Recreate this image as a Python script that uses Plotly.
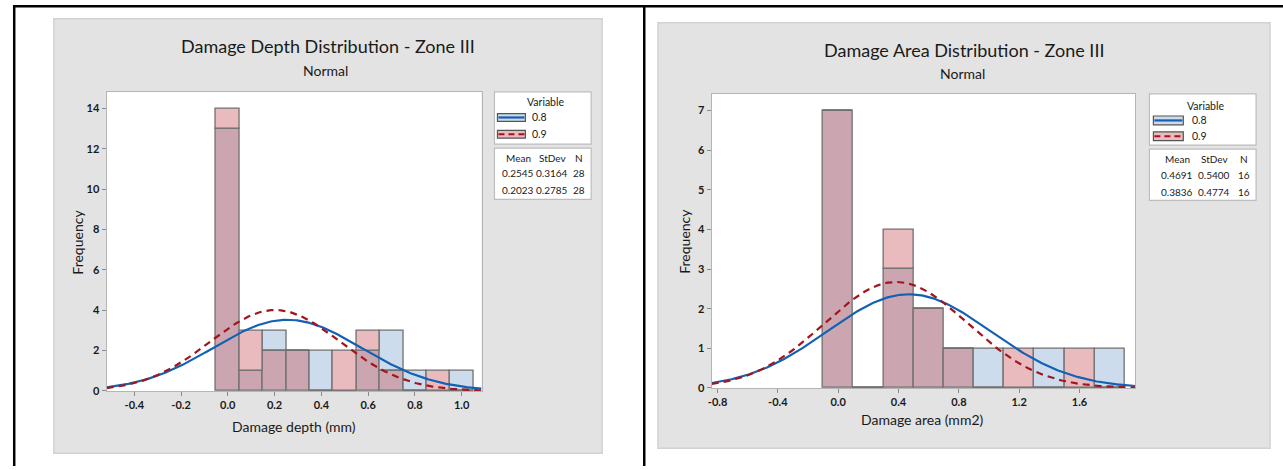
import numpy as np
import plotly.graph_objects as go

W, H = 1283, 470

# ---- data -------------------------------------------------------------
variables = ["0.8", "0.9"]

depth_bins = [0.0, 0.1, 0.2, 0.3, 0.4, 0.5, 0.6, 0.7, 0.8, 0.9, 1.0]
depth_08 = [13, 1, 3, 2, 2, 0, 2, 3, 1, 0, 1]
depth_09 = [14, 3, 2, 2, 0, 2, 3, 1, 0, 1, 0]
depth_mean = [0.2545, 0.2023]
depth_sd = [0.3164, 0.2785]
depth_n = [28, 28]
depth_width = 0.1
depth_xticks = [-0.4, -0.2, 0.0, 0.2, 0.4, 0.6, 0.8, 1.0]
depth_yticks = [0, 2, 4, 6, 8, 10, 12, 14]

area_bins = [0.0, 0.2, 0.4, 0.6, 0.8, 1.0, 1.2, 1.4, 1.6, 1.8]
area_08 = [7, 0, 3, 2, 1, 1, 0, 1, 0, 1]
area_09 = [7, 0, 4, 2, 1, 0, 1, 0, 1, 0]
area_mean = [0.4691, 0.3836]
area_sd = [0.5400, 0.4774]
area_n = [16, 16]
area_width = 0.2
area_xticks = [-0.8, -0.4, 0.0, 0.4, 0.8, 1.2, 1.6]
area_yticks = [0, 1, 2, 3, 4, 5, 6, 7]

# ---- styling ----------------------------------------------------------
BLUE_FILL = "#CDDCEC"
PINK_FILL = "#E9BBBE"
MIX_FILL = "#CBA6B0"
EDGE = "#6F6F6F"
BLUE_LINE = "#1461B4"
RED_LINE = "#A3151C"
PANEL = "#E3E3E3"
FONT = "Lato"
TXT = "#1A1A1A"


def px(x):
    return x / W


def py(y):
    return 1 - y / H


fig = go.Figure()
shapes = []
annotations = []


def rect(x0, y0, x1, y1, fill, line=None, lw=1, layer="below"):
    shapes.append(dict(type="rect", xref="paper", yref="paper",
                       x0=px(x0), x1=px(x1), y0=py(y1), y1=py(y0),
                       fillcolor=fill, layer=layer,
                       line=dict(color=line or fill, width=lw if line else 0)))


def text(x, y, s, size, xanchor="center", angle=0, color=TXT, weight=None):
    if weight:
        s = f"<b>{s}</b>"
    annotations.append(dict(xref="paper", yref="paper", x=px(x), y=py(y),
                            text=s, showarrow=False, xanchor=xanchor,
                            yanchor="middle", textangle=angle,
                            font=dict(family=FONT, size=size, color=color)))


def normal_curve(xs, mean, sd, n, width):
    return n * width * np.exp(-0.5 * ((xs - mean) / sd) ** 2) / (sd * np.sqrt(2 * np.pi))


def add_panel(idx, bins, v08, v09, width, means, sds, ns, xr, yr,
              xticks, yticks, plot_box):
    xa = "x" if idx == 1 else f"x{idx}"
    ya = "y" if idx == 1 else f"y{idx}"
    v08 = np.array(v08)
    v09 = np.array(v09)
    common = np.minimum(v08, v09)
    extra08 = v08 - common
    extra09 = v09 - common
    bar_line = dict(color=EDGE, width=1.3)
    fig.add_trace(go.Bar(x=bins, y=common, width=width, marker=dict(color=MIX_FILL, line=bar_line),
                         xaxis=xa, yaxis=ya, showlegend=False, hoverinfo="skip"))
    fig.add_trace(go.Bar(x=bins, y=extra08, base=common, width=width,
                         marker=dict(color=BLUE_FILL, line=bar_line),
                         xaxis=xa, yaxis=ya, showlegend=False, hoverinfo="skip"))
    fig.add_trace(go.Bar(x=bins, y=extra09, base=common, width=width,
                         marker=dict(color=PINK_FILL, line=bar_line),
                         xaxis=xa, yaxis=ya, showlegend=False, hoverinfo="skip"))
    xs = np.linspace(xr[0], xr[1], 300)
    fig.add_trace(go.Scatter(x=xs, y=normal_curve(xs, means[0], sds[0], ns[0], width),
                             mode="lines", line=dict(color=BLUE_LINE, width=2.2),
                             xaxis=xa, yaxis=ya, showlegend=False, hoverinfo="skip"))
    fig.add_trace(go.Scatter(x=xs, y=normal_curve(xs, means[1], sds[1], ns[1], width),
                             mode="lines", line=dict(color=RED_LINE, width=2.2, dash="7px,5px"),
                             xaxis=xa, yaxis=ya, showlegend=False, hoverinfo="skip"))

    x0, y0, x1, y1 = plot_box
    axis_common = dict(showgrid=False, zeroline=False, showline=True, mirror=True,
                       linecolor="#B5B5B5", linewidth=1.3, ticks="outside", ticklen=4,
                       tickcolor="#8A8A8A",
                       tickfont=dict(family=FONT, size=11, color=TXT, weight="bold"))
    fig.layout[f"xaxis{'' if idx == 1 else idx}"] = dict(
        domain=[px(x0), px(x1)], range=xr, anchor=ya, tickvals=xticks,
        ticktext=[f"{t:.1f}" for t in xticks], **axis_common)
    fig.layout[f"yaxis{'' if idx == 1 else idx}"] = dict(
        domain=[py(y1), py(y0)], range=yr, anchor=xa, tickvals=yticks, **axis_common)
    rect(x0, y0, x1, y1, "white")


def add_legend(box1, box2, var_y, row_y, sw_x, sw_h, lab_x, hdr_y, stat_rows, cols, means, sds, ns):
    rect(*box1, "white", "#BDBDBD", 1.2, layer="above")
    rect(*box2, "white", "#BDBDBD", 1.2, layer="above")
    text((box1[0] + box1[2]) / 2 + 3, var_y, "Variable", 10.5)
    fills = [BLUE_FILL, PINK_FILL]
    lines = [dict(color=BLUE_LINE, width=2.2), dict(color=RED_LINE, width=2.2, dash="6px,4px")]
    for i, v in enumerate(variables):
        cy = row_y[i]
        rect(sw_x[0], cy - sw_h / 2, sw_x[1], cy + sw_h / 2, fills[i], "#555555", 1.2, layer="above")
        shapes.append(dict(type="line", xref="paper", yref="paper", layer="above",
                           x0=px(sw_x[0] + 1), x1=px(sw_x[1] - 1), y0=py(cy), y1=py(cy),
                           line=lines[i]))
        text(lab_x, cy, v, 10.5, xanchor="left")
    for c, h in zip(cols, ["Mean", "StDev", "N"]):
        text(c, hdr_y, h, 10)
    for i in range(2):
        vals = [f"{means[i]:.4f}", f"{sds[i]:.4f}", f"{ns[i]}"]
        for c, s in zip(cols, vals):
            text(c, stat_rows[i], s, 10)


# grey panels and frame
rect(50, 19, 600, 459, PANEL, "#D2D2D2", 1.5)
rect(656, 23, 1270, 454, PANEL, "#D2D2D2", 1.5)
rect(9, 5, W + 2, 7.5, "black", layer="above")
rect(9, 5, 11.5, H + 2, "black", layer="above")
rect(641, 5, 643.5, H + 2, "black", layer="above")

# left: depth
add_panel(1, depth_bins, depth_08, depth_09, depth_width, depth_mean, depth_sd, depth_n,
          [-0.518, 1.085], [0, 14.83], depth_xticks, depth_yticks, (103, 93, 479, 396))
text(325, 47, "Damage Depth Distribution - Zone III", 18)
text(323, 71, "Normal", 14)
text(74, 245, "Frequency", 14, angle=-90)
text(291, 432, "Damage depth (mm)", 14)
add_legend((492, 93, 589, 146), (492, 150, 589, 202), 103, [119, 136], (495, 523), 8, 528,
           160, [175, 192], [516, 550, 577], depth_mean, depth_sd, depth_n)

# right: area
add_panel(2, area_bins, area_08, area_09, area_width, area_mean, area_sd, area_n,
          [-0.838, 1.971], [0, 7.42], area_xticks, area_yticks, (710, 95, 1135, 393))
text(963, 51, "Damage Area Distribution - Zone III", 18)
text(961, 74, "Normal", 14)
text(683, 244, "Frequency", 14, angle=-90)
text(921, 425, "Damage area (mm2)", 14)
add_legend((1149, 95, 1256, 147), (1149, 151, 1256, 203), 107, [122, 138], (1153, 1183), 9, 1190,
           161, [177, 194], [1177, 1214, 1244], area_mean, area_sd, area_n)

fig.update_layout(width=W, height=H, margin=dict(l=0, r=0, t=0, b=0),
                  paper_bgcolor="white", plot_bgcolor="rgba(0,0,0,0)",
                  barmode="overlay", bargap=0, shapes=shapes, annotations=annotations)

fig.write_html("out.html")
